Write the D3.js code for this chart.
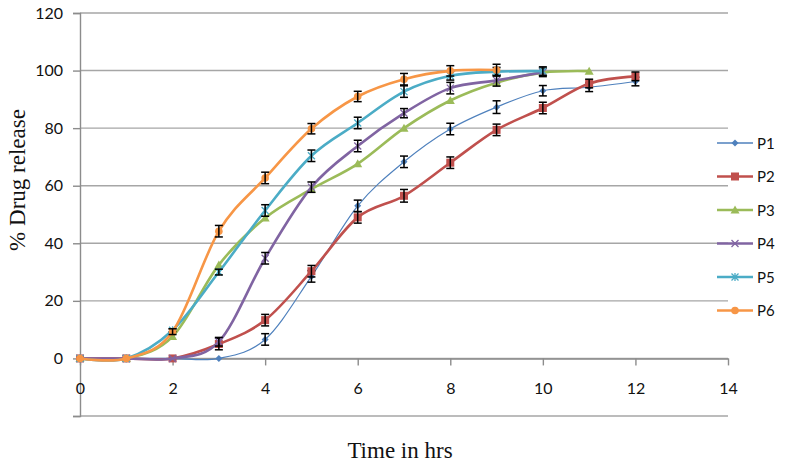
<!DOCTYPE html>
<html>
<head>
<meta charset="utf-8">
<script src="https://cdn.jsdelivr.net/npm/d3@7"></script>
<style>
  body { margin: 0; background: #fff; }
  svg { display: block; }
</style>
</head>
<body>
<svg id="chart"></svg>
<script>
// Time points (hrs) and release values.
const times = [0, 1, 2, 3, 4, 5, 6, 7, 8, 9, 10, 11, 12];
const seriesNames = ['P1', 'P2', 'P3', 'P4', 'P5', 'P6'];
const p1 = [0, 0, 0, 0, 6.6, 28.5, 53, 68.3, 79.7, 87.3, 93, 94.2, 96.2];
const p2 = [0, 0, 0, 5, 13.3, 30.3, 49, 56.5, 68, 79.4, 87, 95.5, 98];
const p3 = [0, 0, 7.6, 32.5, 48.8, 58.8, 67.6, 80, 89.6, 95.8, 99.3, 99.8];
const p4 = [0, 0, 0, 5.8, 34.8, 59.5, 73.8, 85.2, 93.9, 96.6, 99.4];
const p5 = [0, 0, 9.8, 30, 51.4, 70.4, 81.8, 92.7, 98.2, 99.6, 99.8];
const p6 = [0, 0, 9.3, 44.2, 62.7, 79.8, 91, 97, 99.9, 100.2];
// Error bar half-widths (0 = no bar). P3 has none.
const e1 = [0, 0, 0, 0, 2, 2, 2, 2, 2, 2.2, 1.8, 1.5, 1.5];
const e2 = [0, 0, 0, 2, 2, 2, 2, 2.2, 2, 2, 2, 1.5, 1.5];
const e3 = [];
const e4 = [0, 0, 0, 1.5, 2, 1.8, 2, 1.6, 2, 2, 1.5];
const e5 = [0, 0, 0.5, 1, 2, 2, 2, 2, 1.5, 1.5, 1.5];
const e6 = [0, 0, 1, 2, 2, 1.8, 1.8, 2, 1.8, 2];
const xTicks = [0, 2, 4, 6, 8, 10, 12, 14];
const yTicks = [0, 20, 40, 60, 80, 100, 120];

const width = 786;
const height = 467;

const svg = d3.select('#chart')
  .attr('width', width)
  .attr('height', height);

svg.append('rect').attr('width', width).attr('height', height).attr('fill', '#fff');

const xScale = d3.scaleLinear().domain([0, 14]).range([80, 728]);
const yScale = d3.scaleLinear().domain([-20, 120]).range([416, 13]);

const gridColor = '#a6a6a6';
const axisColor = '#8c8c8c';

// Horizontal gridlines, including the bottom one at -20.
svg.append('g')
  .selectAll('line')
  .data([-20].concat(yTicks))
  .join('line')
  .attr('x1', xScale(0))
  .attr('x2', xScale(14))
  .attr('y1', (d) => yScale(d))
  .attr('y2', (d) => yScale(d))
  .attr('stroke', gridColor)
  .attr('stroke-width', 1.4);

// Y axis.
const yAxis = d3.axisLeft(yScale)
  .tickValues([-20].concat(yTicks))
  .tickSize(7)
  .tickPadding(10)
  .tickFormat((d) => (d < 0 ? '' : d));

svg.append('g')
  .attr('transform', `translate(${xScale(0)},0)`)
  .call(yAxis)
  .call((g) => {
    g.select('.domain').attr('stroke', axisColor).attr('stroke-width', 1.4);
    g.selectAll('.tick line').attr('stroke', axisColor).attr('stroke-width', 1.4);
    g.selectAll('text')
      .attr('fill', '#111')
      .style('font-family', 'Lato, "Open Sans", sans-serif')
      .style('font-size', '16px');
  });

// X axis sits on y = 0.
const xAxis = d3.axisBottom(xScale)
  .tickValues(xTicks)
  .tickSize(7)
  .tickPadding(17)
  .tickSizeOuter(0);

svg.append('g')
  .attr('transform', `translate(0,${yScale(0)})`)
  .call(xAxis)
  .call((g) => {
    g.select('.domain').attr('stroke', axisColor).attr('stroke-width', 1.4);
    g.selectAll('.tick line').attr('stroke', axisColor).attr('stroke-width', 1.4);
    g.selectAll('text')
      .attr('fill', '#111')
      .style('font-family', 'Lato, "Open Sans", sans-serif')
      .style('font-size', '16px');
  });

// Axis titles.
svg.append('text')
  .attr('x', 400)
  .attr('y', 458)
  .attr('text-anchor', 'middle')
  .style('font-family', '"Liberation Serif", "DejaVu Serif", serif')
  .style('font-size', '23px')
  .attr('fill', '#111')
  .text('Time in hrs');

svg.append('text')
  .attr('transform', 'translate(25,180) rotate(-90)')
  .attr('text-anchor', 'middle')
  .style('font-family', '"Liberation Serif", "DejaVu Serif", serif')
  .style('font-size', '23px')
  .attr('fill', '#111')
  .text('% Drug release');

const series = [
  { name: seriesNames[0], values: p1, errors: e1, color: '#4f81bd', width: 1.2, marker: 'diamond' },
  { name: seriesNames[1], values: p2, errors: e2, color: '#c0504d', width: 2.6, marker: 'square' },
  { name: seriesNames[2], values: p3, errors: e3, color: '#9bbb59', width: 2.6, marker: 'triangle' },
  { name: seriesNames[3], values: p4, errors: e4, color: '#8064a2', width: 2.6, marker: 'cross' },
  { name: seriesNames[4], values: p5, errors: e5, color: '#4bacc6', width: 2.6, marker: 'star' },
  { name: seriesNames[5], values: p6, errors: e6, color: '#f79646', width: 2.6, marker: 'circle' },
];

const line = d3.line()
  .x((d) => xScale(d[0]))
  .y((d) => yScale(d[1]))
  .curve(d3.curveCardinal.tension(0));

function drawMarker(g, type, color) {
  if (type === 'diamond') {
    g.append('path').attr('d', 'M0,-3.5L3.5,0L0,3.5L-3.5,0Z').attr('fill', color);
  } else if (type === 'square') {
    g.append('rect').attr('x', -4).attr('y', -4).attr('width', 8).attr('height', 8).attr('fill', color);
  } else if (type === 'triangle') {
    g.append('path').attr('d', 'M0,-4.5L4.5,3.5L-4.5,3.5Z').attr('fill', color);
  } else if (type === 'cross') {
    g.append('path').attr('d', 'M-3.5,-3.5L3.5,3.5M-3.5,3.5L3.5,-3.5')
      .attr('stroke', color).attr('stroke-width', 1.3).attr('fill', 'none');
  } else if (type === 'star') {
    g.append('path').attr('d', 'M-3.5,-3.5L3.5,3.5M-3.5,3.5L3.5,-3.5M0,-4L0,4')
      .attr('stroke', color).attr('stroke-width', 1.3).attr('fill', 'none');
  } else {
    g.append('circle').attr('r', 3.8).attr('fill', color);
  }
}

series.forEach((s) => {
  const pts = s.values.map((v, i) => [times[i], v]);
  const g = svg.append('g');

  g.append('path')
    .datum(pts)
    .attr('d', line)
    .attr('fill', 'none')
    .attr('stroke', s.color)
    .attr('stroke-width', s.width)
    .attr('stroke-linejoin', 'round');

  pts.forEach((p) => {
    const m = g.append('g').attr('transform', `translate(${xScale(p[0])},${yScale(p[1])})`);
    drawMarker(m, s.marker, s.color);
  });

  // Error bars with caps.
  pts.forEach((p, i) => {
    const err = s.errors[i];
    if (!err) return;
    const cx = xScale(p[0]);
    const yTop = yScale(p[1] + err);
    const yBot = yScale(p[1] - err);
    const eb = g.append('g').attr('stroke', '#000').attr('stroke-width', 1.5);
    eb.append('line').attr('x1', cx).attr('x2', cx).attr('y1', yTop).attr('y2', yBot);
    eb.append('line').attr('x1', cx - 4).attr('x2', cx + 4).attr('y1', yTop).attr('y2', yTop);
    eb.append('line').attr('x1', cx - 4).attr('x2', cx + 4).attr('y1', yBot).attr('y2', yBot);
  });
});

// Legend.
const legend = svg.append('g').attr('transform', 'translate(717,143)');
series.forEach((s, i) => {
  const row = legend.append('g').attr('transform', `translate(0,${i * 33.5})`);
  row.append('line')
    .attr('x1', 0).attr('x2', 36)
    .attr('stroke', s.color)
    .attr('stroke-width', s.width < 2 ? 1.6 : 2.6);
  const m = row.append('g').attr('transform', 'translate(18,0)');
  drawMarker(m, s.marker, s.color);
  row.append('text')
    .attr('x', 40)
    .attr('y', 5.5)
    .style('font-family', 'Lato, "Open Sans", sans-serif')
    .style('font-size', '15px')
    .attr('fill', '#111')
    .text(s.name);
});
</script>
</body>
</html>
